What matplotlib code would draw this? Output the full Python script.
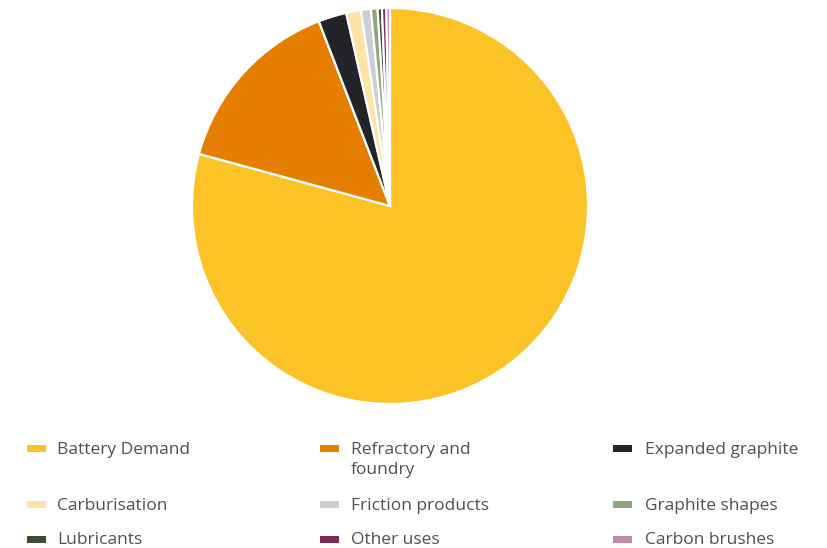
import matplotlib
matplotlib.use("Agg")
import matplotlib.pyplot as plt
from matplotlib.patches import Rectangle

categories = ["Battery Demand", "Refractory and\nfoundry", "Expanded graphite",
              "Carburisation", "Friction products", "Graphite shapes",
              "Lubricants", "Other uses", "Carbon brushes"]
values = [79.2, 14.9, 2.3, 1.2, 0.8, 0.55, 0.35, 0.35, 0.3]
colors = ["#FBC326", "#E67F00", "#222427", "#FFE3A6", "#CDCDD4",
          "#8FA677", "#3A4C31", "#7B2A57", "#C28AA9"]

plt.rcParams['font.family'] = ['Open Sans', 'DejaVu Sans']

W, H = 828, 548
fig = plt.figure(figsize=(W / 100, H / 100), dpi=100)
cx, cy, r = 390, 206, 198
ax = fig.add_axes([(cx - r) / W, (H - cy - r) / H, 2 * r / W, 2 * r / H])
ax.pie(values, colors=colors, startangle=90, counterclock=False, radius=1,
       wedgeprops=dict(edgecolor="white", linewidth=1.6))
ax.set_xlim(-1.0, 1.0)
ax.set_ylim(-1.0, 1.0)
ax.set_aspect("equal")
ax.axis("off")

# legend (3 columns)
col_marker_x = [27, 320, 613]
col_text_x = [57, 351, 645]
row_y = [448, 504, 539]
for i, (lab, col) in enumerate(zip(categories, colors)):
    row, c = divmod(i, 3)
    y = row_y[row]
    fig.add_artist(Rectangle((col_marker_x[c] / W, (H - y - 3.5) / H), 19 / W, 7 / H,
                             transform=fig.transFigure, color=col, linewidth=0))
    fig.text(col_text_x[c] / W, (H - y + 6.5) / H, lab, fontsize=12.5, color="#505050",
             ha="left", va="top", linespacing=1.4)

fig.savefig("out.png", dpi=100)
